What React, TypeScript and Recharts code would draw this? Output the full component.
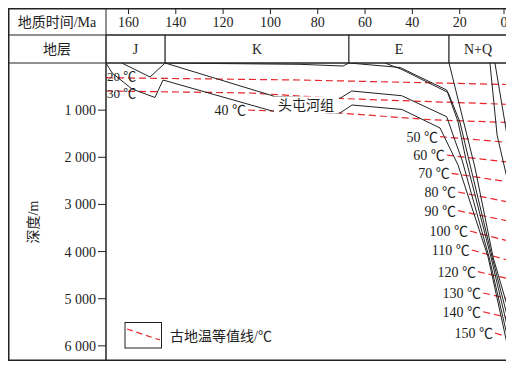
import React from 'react';
import { LineChart, Line, XAxis, YAxis, ReferenceArea, ReferenceDot } from 'recharts';

// time axis (Ma) and depth axis (m)
const timeTicks = [160, 140, 120, 100, 80, 60, 40, 20, 0];
const depthTicks = [1000, 2000, 3000, 4000, 5000, 6000];

// stratigraphic units
const strataNames = ['J', 'K', 'E', 'N+Q'];
const strataFrom = [169.5, 144.5, 66.8, 24.5];
const strataTo = [144.5, 66.8, 24.5, 0];

// burial history curves: [age Ma, depth m]
const burialA = [[169.5, 0], [166.9, 212], [158.5, 552], [148.8, 732], [145.4, 361], [99.3, 1018], [70.6, 1061], [65.5, 891], [44.4, 986], [28.3, 1379], [20.7, 2164], [8.0, 4115], [0, 5950]];
const burialB = [[162.8, 0], [150.9, 297], [144.5, 0], [98.1, 711], [70.6, 749], [65.6, 594], [44.5, 694], [25.5, 1139], [21.3, 1740], [19.0, 2058], [7.6, 4115], [0, 5770]];
const burialC = [[144.5, 0], [87.5, 28], [69.3, 64], [66.8, 0]];
const burialD1 = [[66.8, 0], [45.2, 95], [25.5, 573], [20.7, 1245], [17.3, 2058], [6.8, 4115], [0, 5558]];
const burialD2 = [[51.6, 0], [44.4, 138], [24.9, 626], [19.9, 1252], [16.1, 2058], [6.3, 4115], [0, 5346]];
const burialE = [[24.5, 0], [13.5, 2227], [5.9, 4115], [0, 5134]];
const burialF = [[7.2, 0], [4.2, 1527], [0, 2440]];
const burialG = [[5.1, 0], [0, 1527]];
const burialCurves = [burialA, burialB, burialC, burialD1, burialD2, burialE, burialF, burialG];

// palaeo-isotherms
const isoTemps = [20, 30, 40, 50, 60, 70, 80, 90, 100, 110, 120, 130, 140, 150];
const iso20 = [[169.5, 312], [87.5, 361], [0, 456]];
const iso30 = [[169.5, 594], [108.6, 636], [70.6, 753], [0, 876]];
const iso40 = [[109.5, 997], [99.3, 1018], [70.6, 1061], [32.5, 1203], [0, 1262]];
const iso50 = [[28.3, 1563], [0, 1682]];
const iso60 = [[25.5, 1952], [0, 2100]];
const iso70 = [[23.4, 2340], [0, 2518]];
const iso80 = [[20.7, 2737], [0, 2943]];
const iso90 = [[20.7, 3133], [0, 3346]];
const iso100 = [[15.6, 3564], [0, 3770]];
const iso110 = [[14.9, 3967], [0, 4179]];
const iso120 = [[12.3, 4427], [0, 4567]];
const iso130 = [[10.1, 4879], [0, 4991]];
const iso140 = [[10.1, 5276], [0, 5395]];
const iso150 = [[5.1, 5728], [0, 5806]];
const isoLines = [iso20, iso30, iso40, iso50, iso60, iso70, iso80, iso90, iso100, iso110, iso120, iso130, iso140, iso150];

// formation label
const formationName = '头屯河组';
const formationAt = [85, 900];

const FONT = "'Liberation Serif', 'Noto Sans CJK SC', serif";
const INK = '#222';
const RED = '#e8262b';

const toPts = (arr: number[][]) => arr.map(([age, depth]) => ({ age, depth }));

const TimeTick = (props: any) => {
  const { x, payload } = props;
  return (
    <g>
      <line x1={x} x2={x} y1={0} y2={6} stroke={INK} strokeWidth={1} />
      <text x={x} y={19} textAnchor="middle" fontSize={14} fontFamily={FONT} fill={INK}>
        {payload.value}
      </text>
    </g>
  );
};

const isoLabel = (temp: number) => (props: any) => {
  const { x, y, index } = props;
  if (index !== 0) return null;
  // the two shallow isotherms carry their label on the line at the left edge
  const left = temp <= 30;
  const dy = temp === 20 ? 3.5 : temp === 30 ? 6.5 : 5;
  return (
    <text
      x={left ? x + 1 : x - 2}
      y={y + dy}
      textAnchor={left ? 'start' : 'end'}
      fontSize={left ? 13 : 14}
      fontFamily={FONT}
      fill={INK}
    >
      {temp} ℃
    </text>
  );
};

const FormationLabel = (props: any) => {
  const { viewBox } = props;
  const cx = viewBox.x;
  const cy = viewBox.y;
  return (
    <g>
      <rect x={cx - 32} y={cy - 9} width={65} height={17} fill="#fff" />
      <text x={cx} y={cy + 5} textAnchor="middle" fontSize={14} fontFamily={FONT} fill={INK}>
        {formationName}
      </text>
    </g>
  );
};

export default function App() {
  return (
    <div style={{ position: 'relative', width: 500, height: 354, background: '#fff' }}>
      <LineChart width={500} height={354} margin={{ top: 25, right: 1, bottom: 2, left: 0 }}>
        <XAxis
          dataKey="age"
          type="number"
          orientation="top"
          domain={[0, 169.5]}
          reversed
          ticks={timeTicks}
          height={30}
          axisLine={false}
          tickLine={false}
          tick={<TimeTick />}
          allowDataOverflow
        />
        <YAxis
          dataKey="depth"
          type="number"
          domain={[0, 6300]}
          reversed
          ticks={depthTicks}
          width={98}
          tickSize={8}
          stroke={INK}
          tick={{ fontSize: 14, fontFamily: FONT, fill: INK }}
          tickFormatter={(v) => `${Math.floor(v / 1000)} 000`}
          allowDataOverflow
        />
        {strataNames.map((name, i) => (
          <ReferenceArea
            key={name}
            x1={strataFrom[i]}
            x2={strataTo[i]}
            y1={-594}
            y2={0}
            ifOverflow="visible"
            stroke={INK}
            strokeWidth={1}
            fill="#fff"
            fillOpacity={1}
            label={{ value: name, position: 'center', fontSize: 14, fontFamily: FONT, fill: INK }}
          />
        ))}
        {isoLines.map((iso, i) => (
          <Line
            key={`iso-${isoTemps[i]}`}
            data={toPts(iso)}
            dataKey="depth"
            type="linear"
            stroke={RED}
            strokeWidth={1.2}
            strokeDasharray="7 4"
            dot={false}
            isAnimationActive={false}
            label={isoLabel(isoTemps[i])}
          />
        ))}
        {burialCurves.map((c, i) => (
          <Line
            key={`burial-${i}`}
            data={toPts(c)}
            dataKey="depth"
            type="linear"
            stroke={INK}
            strokeWidth={1}
            dot={false}
            isAnimationActive={false}
          />
        ))}
        <ReferenceDot
          x={formationAt[0]}
          y={formationAt[1]}
          r={0}
          fill="none"
          stroke="none"
          label={<FormationLabel />}
        />
      </LineChart>
      <svg
        width={500}
        height={354}
        style={{ position: 'absolute', left: 0, top: 0, pointerEvents: 'none' }}
      >
        <rect x={0.75} y={0.75} width={498.5} height={351.5} fill="none" stroke={INK} strokeWidth={1.5} />
        <line x1={0} x2={499} y1={27} y2={27} stroke={INK} strokeWidth={1} />
        <line x1={0} x2={499} y1={55} y2={55} stroke={INK} strokeWidth={1} />
        <line x1={98} x2={98} y1={0} y2={352} stroke={INK} strokeWidth={1} />
        <text x={49} y={19} textAnchor="middle" fontSize={14} fontFamily={FONT} fill={INK}>
          地质时间/Ma
        </text>
        <text x={49} y={46} textAnchor="middle" fontSize={14} fontFamily={FONT} fill={INK}>
          地层
        </text>
        <text
          x={30}
          y={214}
          textAnchor="middle"
          fontSize={14}
          fontFamily={FONT}
          fill={INK}
          transform="rotate(-90 30 214)"
        >
          深度/m
        </text>
        <rect x={117} y={314.5} width={36.5} height={25.5} fill="#fff" stroke={INK} strokeWidth={1} />
        <line x1={119} y1={321} x2={152} y2={332} stroke={RED} strokeWidth={1.2} strokeDasharray="6 4" />
        <text x={162} y={333} fontSize={14} fontFamily={FONT} fill={INK}>
          古地温等值线/℃
        </text>
      </svg>
    </div>
  );
}
